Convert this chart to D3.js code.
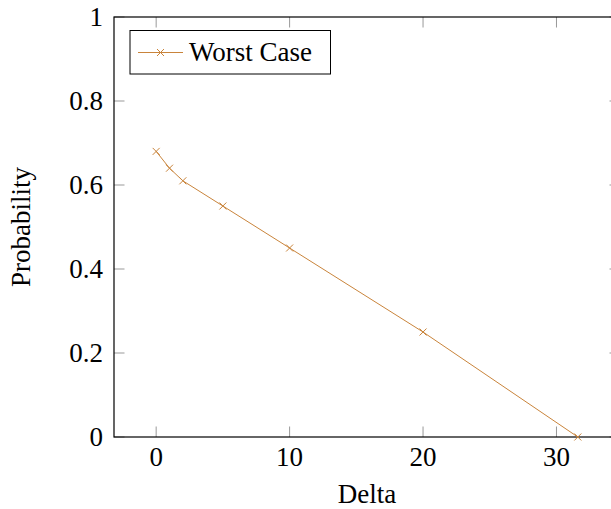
<!DOCTYPE html>
<html>
<head>
<meta charset="utf-8">
<script src="https://cdn.jsdelivr.net/npm/d3@7"></script>
<style>
  body { margin: 0; background: #fff; }
  svg text { font-family: 'Liberation Serif', 'DejaVu Serif', serif; fill: #000; }
</style>
</head>
<body>
<div id="chart"></div>
<script>
// 数据
const deltas = [0, 1, 2, 5, 10, 20, 31.6];
const probs = [0.68, 0.64, 0.61, 0.55, 0.45, 0.25, 0];
const xTicks = [0, 10, 20, 30];
const yTicks = [0, 0.2, 0.4, 0.6, 0.8, 1];
const seriesName = 'Worst Case';

const W = 611, H = 509;
const mLeft = 114, mTop = 17, mRight = 620, mBottom = 437;
const lineColor = '#c9843b';

const svg = d3.select('#chart').append('svg').attr('width', W).attr('height', H);

const x = d3.scaleLinear().domain([-3.16, 34.76]).range([mLeft, mRight]);
const y = d3.scaleLinear().domain([0, 1]).range([mBottom, mTop]);

// 刻度线（内向，灰色）
const tickLen = 10.5;
const g = svg.append('g');
xTicks.forEach(t => {
  g.append('line').attr('x1', x(t)).attr('x2', x(t)).attr('y1', mBottom).attr('y2', mBottom - tickLen)
    .attr('stroke', '#999').attr('stroke-width', 1);
  g.append('line').attr('x1', x(t)).attr('x2', x(t)).attr('y1', mTop).attr('y2', mTop + tickLen)
    .attr('stroke', '#999').attr('stroke-width', 1);
});
yTicks.forEach(t => {
  g.append('line').attr('x1', mLeft).attr('x2', mLeft + tickLen).attr('y1', y(t)).attr('y2', y(t))
    .attr('stroke', '#999').attr('stroke-width', 1);
  g.append('line').attr('x1', mRight).attr('x2', mRight - tickLen).attr('y1', y(t)).attr('y2', y(t))
    .attr('stroke', '#999').attr('stroke-width', 1);
});

// 坐标框
svg.append('rect').attr('x', mLeft).attr('y', mTop).attr('width', mRight - mLeft).attr('height', mBottom - mTop)
  .attr('fill', 'none').attr('stroke', '#000').attr('stroke-width', 1.2);

// 刻度标签
svg.append('g').selectAll('text').data(xTicks).enter().append('text')
  .attr('x', d => x(d)).attr('y', 466)
  .attr('text-anchor', 'middle').style('font-size', '27px')
  .text(d => d);
svg.append('g').selectAll('text').data(yTicks).enter().append('text')
  .attr('x', 103).attr('y', d => y(d)).attr('dy', '0.33em')
  .attr('text-anchor', 'end').style('font-size', '27px')
  .text(d => d3.format('~g')(d));

// 轴标题
svg.append('text').attr('x', (mLeft + mRight) / 2).attr('y', 503)
  .attr('text-anchor', 'middle').style('font-size', '27px').text('Delta');
svg.append('text').attr('transform', 'translate(30,' + ((mTop + mBottom) / 2) + ') rotate(-90)')
  .attr('text-anchor', 'middle').style('font-size', '27px').text('Probability');

// 折线
const pts = deltas.map((d, i) => [d, probs[i]]);
const line = d3.line().x(d => x(d[0])).y(d => y(d[1]));
svg.append('path').datum(pts).attr('d', line)
  .attr('fill', 'none').attr('stroke', lineColor).attr('stroke-width', 1);

const cross = (sel, cx, cy, s) => {
  sel.append('path')
    .attr('d', `M${cx - s},${cy - s}L${cx + s},${cy + s}M${cx - s},${cy + s}L${cx + s},${cy - s}`)
    .attr('stroke', lineColor).attr('stroke-width', 1).attr('fill', 'none');
};
const marks = svg.append('g');
pts.forEach(p => cross(marks, x(p[0]), y(p[1]), 3.5));

// 图例
const lg = svg.append('g');
lg.append('rect').attr('x', 130).attr('y', 30.5).attr('width', 200.5).attr('height', 43.5)
  .attr('fill', '#fff').attr('stroke', '#000').attr('stroke-width', 1);
lg.append('line').attr('x1', 138).attr('x2', 183).attr('y1', 52.5).attr('y2', 52.5)
  .attr('stroke', lineColor).attr('stroke-width', 1);
cross(lg, 160.5, 52.5, 3.5);
lg.append('text').attr('x', 189).attr('y', 60.5).style('font-size', '27px').text(seriesName);
</script>
</body>
</html>
